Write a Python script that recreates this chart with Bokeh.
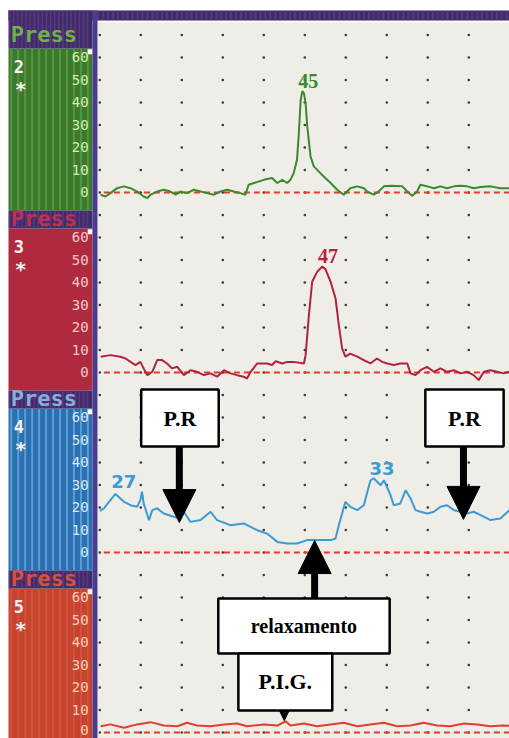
import numpy as np
from bokeh.plotting import figure
from bokeh.models import Range1d, Arrow, NormalHead
from bokeh.core.properties import value
from bokeh.embed import file_html
from bokeh.resources import INLINE

# ---------------- data ----------------
channel_names = ["2", "3", "4", "5"]
channel_base = [240, 160, 80, 0]          # stacking offset of each channel (mmHg units)
tick_values = [0, 10, 20, 30, 40, 50, 60]
tick_labels = ["0", "10", "20", "30", "40", "50", "60"]

# time in grid divisions, pressure in mmHg
ch2_t = [0.02, 0.14, 0.26, 0.42, 0.59, 0.75, 0.91, 1.07, 1.16, 1.24, 1.40, 1.56, 1.72, 1.85, 1.97,
         2.13, 2.29, 2.46, 2.62, 2.78, 2.94, 3.11, 3.27, 3.43, 3.55, 3.63, 3.76, 4.00, 4.20, 4.33,
         4.45, 4.57, 4.65, 4.73, 4.81, 4.85, 4.90, 4.94, 4.98, 5.02, 5.06, 5.14, 5.22, 5.38, 5.46,
         5.63, 5.79, 5.95, 6.11, 6.28, 6.44, 6.52, 6.68, 6.80, 6.93, 7.09, 7.38, 7.50, 7.62, 7.74,
         7.82, 7.99, 8.15, 8.31, 8.47, 8.64, 8.80, 8.96, 9.12, 9.29, 9.53, 9.77, 9.99]
ch2_p = [-1.0, -1.8, -0.3, 1.9, 2.7, 1.9, 0.4, -1.8, -2.5, -1.0, 0.4, 1.2, 0.4, -1.0, 0.4,
         -0.3, 1.2, 0.4, -0.3, -1.0, 0.4, 1.2, 0.4, -0.3, -1.0, 3.4, 4.2, 5.6, 6.4, 4.2,
         5.6, 4.2, 5.6, 8.6, 14.5, 24.9, 41.2, 45.0, 44.0, 39.7, 29.3, 16.0, 11.6, 8.6, 7.1,
         4.2, 1.2, -1.0, 1.9, 2.7, 1.9, 0.4, -1.0, 0.4, 2.7, 3.0, 2.7, 0.4, -1.5, 0.4,
         3.4, 2.7, 1.9, 2.7, 1.9, 2.7, 3.0, 2.7, 1.9, 2.4, 2.7, 1.9, 1.9]

ch3_t = [0.02, 0.26, 0.50, 0.63, 0.75, 0.87, 0.99, 1.07, 1.16, 1.28, 1.40, 1.52, 1.64, 1.76, 1.89,
         2.05, 2.21, 2.37, 2.54, 2.70, 2.86, 3.03, 3.19, 3.35, 3.51, 3.59, 3.68, 3.84, 4.08, 4.20,
         4.29, 4.45, 4.57, 4.73, 4.98, 5.02, 5.10, 5.18, 5.30, 5.42, 5.50, 5.63, 5.75, 5.83, 5.91,
         5.99, 6.11, 6.28, 6.44, 6.60, 6.76, 6.89, 7.01, 7.17, 7.33, 7.50, 7.58, 7.70, 7.82, 7.98,
         8.15, 8.31, 8.47, 8.64, 8.80, 8.96, 9.12, 9.24, 9.37, 9.53, 9.69, 9.85, 9.99]
ch3_p = [7.0, 7.7, 7.0, 6.2, 4.7, 3.3, 4.7, 1.8, -1.2, 0.3, 5.5, 5.5, 4.0, 1.8, 2.5,
         -1.2, 1.0, 0.3, -1.2, -0.4, -1.9, 1.0, -0.4, -1.2, -1.9, -2.7, 0.3, 4.0, 4.0, 3.3,
         5.0, 4.0, 4.7, 4.7, 4.0, 7.7, 25.5, 40.3, 44.7, 47.0, 46.0, 40.3, 32.9, 21.0, 10.7,
         7.0, 8.4, 7.0, 5.5, 4.0, 6.2, 4.7, 4.0, 3.3, 4.0, 4.0, -0.4, -1.2, 1.0, 2.5,
         0.3, 1.8, 0.3, 1.0, -0.4, 0.3, -1.2, -3.4, 0.3, 1.0, 0.3, -0.4, 0.3]

ch4_t = [0.00, 0.10, 0.38, 0.59, 0.75, 0.91, 0.99, 1.03, 1.07, 1.20, 1.28, 1.40, 1.56, 1.80, 1.97,
         2.05, 2.13, 2.21, 2.46, 2.70, 2.86, 3.19, 3.51, 3.84, 4.08, 4.33, 4.57, 4.81, 5.06, 5.30,
         5.63, 5.75, 5.83, 5.99, 6.11, 6.28, 6.44, 6.60, 6.68, 6.85, 6.93, 7.09, 7.17, 7.33, 7.46,
         7.58, 7.70, 7.82, 7.99, 8.15, 8.31, 8.47, 8.64, 8.80, 8.96, 9.12, 9.29, 9.53, 9.77, 9.99]
ch4_p = [18.5, 19.6, 26.0, 22.5, 21.0, 20.3, 23.3, 27.0, 21.8, 14.4, 18.8, 19.6, 17.3, 15.9, 15.1,
         18.1, 15.9, 13.6, 14.4, 18.1, 14.4, 12.1, 12.9, 9.9, 8.4, 4.7, 4.0, 4.0, 5.5, 5.5,
         5.5, 6.2, 12.1, 22.5, 20.3, 18.8, 21.0, 32.0, 33.0, 29.9, 32.1, 25.5, 21.0, 21.8, 27.7,
         24.0, 18.8, 18.1, 17.3, 18.1, 20.3, 21.0, 18.8, 18.1, 17.3, 18.1, 16.6, 14.4, 15.1, 18.8]

ch5_t = [0.02, 0.26, 0.59, 0.91, 1.24, 1.56, 1.89, 2.13, 2.37, 2.70, 3.03, 3.35, 3.59, 4.00, 4.33,
         4.53, 4.65, 4.98, 5.30, 5.63, 5.95, 6.28, 6.60, 6.93, 7.25, 7.58, 7.90, 8.23, 8.55, 8.88,
         9.20, 9.53, 9.85, 9.99]
ch5_p = [2.8, 3.6, 2.1, 3.6, 4.6, 3.1, 2.8, 4.3, 3.1, 2.8, 3.6, 4.0, 2.8, 3.6, 3.1,
         5.0, 3.1, 4.0, 2.8, 3.6, 4.3, 2.8, 3.6, 4.3, 2.8, 3.1, 4.3, 3.1, 2.8, 4.0,
         3.6, 2.8, 3.1, 3.0]

# peak value labels: channel index, time of peak, value
peak_ch = [0, 1, 2, 2]
peak_t = [4.94, 5.42, 0.38, 6.68]
peak_val = [45, 47, 27, 33]

# ---------------- styling ----------------
trace_colors = ["#3a8a2a", "#b4213f", "#3d9bd3", "#e0402e"]
panel_colors = ["#3b7a2c", "#b02a3e", "#2c6fb0", "#c8432e"]
stripe_colors = ["#62a048", None, "#6aaedf", "#d25a44"]
label_colors = ["#d2efb4", "#f6c9d3", "#d6ecfa", "#f8cfbd"]
press_colors = ["#70b048", "#c0304c", "#86aed6", "#d8503a"]
peak_font = ["Liberation Serif", "Liberation Serif", "DejaVu Sans", "DejaVu Sans"]
peak_size = ["20px", "20px", "18px", "18px"]
header_col = "#3c2e6c"
all_traces = [(ch2_t, ch2_p), (ch3_t, ch3_p), (ch4_t, ch4_p), (ch5_t, ch5_p)]

X0, X1 = -2.422, 9.993      # full canvas
Y0, Y1 = -2.67, 325.3
SL = -2.227                 # left edge of the coloured sidebar
TB = 320.9                  # top of the dark top band

p = figure(width=509, height=738, x_range=Range1d(X0, X1), y_range=Range1d(Y0, Y1),
           output_backend="svg", toolbar_location=None, min_border=0,
           x_axis_location=None, y_axis_location=None)
p.grid.visible = False
p.outline_line_color = None
p.background_fill_color = "white"
p.border_fill_color = "white"

# plotting area background
p.quad(left=-0.056, right=X1, bottom=Y0, top=315.6, fill_color="#eeede8", line_color=None)
# top band
p.quad(left=SL, right=X1, bottom=316.4, top=TB, fill_color=header_col, line_color=None)
sx = np.arange(-2.2, X1, 0.12)
p.segment(x0=sx, x1=sx, y0=316.4, y1=TB, line_color="#7a3c84", line_width=1.5, line_alpha=0.6)

# sidebar panels
for i, b in enumerate(channel_base):
    pb = Y0 if i == 3 else b - 8
    ht = TB if i == 0 else b + 72
    p.quad(left=SL, right=-0.178, bottom=pb, top=b + 64, fill_color=panel_colors[i], line_color=None)
    if stripe_colors[i]:
        xs = np.arange(-2.16, -0.2, 0.17)
        p.segment(x0=xs, x1=xs, y0=pb, y1=b + 64, line_color=stripe_colors[i], line_width=2,
                  line_alpha=0.75)
    p.quad(left=SL, right=-0.178, bottom=b + 64, top=ht, fill_color=header_col, line_color=None)
    hx = np.arange(-2.2, -0.2, 0.1)
    p.segment(x0=hx, x1=hx, y0=b + 64, y1=ht, line_color="#7a3c84", line_width=1.5, line_alpha=0.6)
    p.text(x=[-2.17], y=[b + (70 if i == 0 else 68.5)], text=["Press"], text_font=value("DejaVu Sans Mono"),
           text_font_style="bold", text_font_size="22px", text_color=press_colors[i],
           text_baseline="middle", text_align="left")
    p.text(x=[-2.10], y=[b + 56], text=[channel_names[i]], text_font=value("DejaVu Sans Mono"),
           text_font_style="bold", text_font_size="17px", text_color="#f6f2f2",
           text_baseline="middle", text_align="left")
    p.text(x=[-1.93], y=[b + 46], text=["*"], text_font=value("DejaVu Sans Mono"),
           text_font_style="bold", text_font_size="20px", text_color="#f6f2f2",
           text_baseline="middle", text_align="center")
    p.text(x=[-0.27] * len(tick_values), y=[max(b + v, Y0 + 3.6) for v in tick_values], text=tick_labels,
           text_font=value("DejaVu Sans Mono"), text_font_size="14px", text_color=label_colors[i],
           text_baseline="middle", text_align="right")
    p.scatter(x=[-0.235], y=[b + 62.5], marker="square", size=5, fill_color="white", line_color=None)

# left border of the recording
p.quad(left=-0.178, right=-0.056, bottom=Y0, top=TB, fill_color="#4a3d8f", line_color=None)

# dotted grid
gx, gy = np.meshgrid(np.arange(0, 10, 1.0), np.arange(0, 320, 10.0))
p.scatter(x=gx.ravel(), y=gy.ravel(), size=2.6, fill_color="#3a3a3a", line_color=None)

# zero baselines
for b in channel_base:
    p.line(x=[0.1, X1], y=[b, b], line_color="#e53b2f", line_width=2, line_dash="6 4")

# traces
for i, (t, pr) in enumerate(all_traces):
    p.line(x=t, y=[channel_base[i] + v for v in pr], line_color=trace_colors[i], line_width=2)

# peak labels
for c, t, v in zip(peak_ch, peak_t, peak_val):
    p.text(x=[t - 0.1], y=[channel_base[c] + v + 1.5], text=[str(v)], text_font=value(peak_font[c]),
           text_font_style="bold", text_font_size=peak_size[c], text_color=trace_colors[c],
           text_baseline="bottom", text_align="left")

# annotation boxes
box_l = [1.01, 7.94, 2.89, 3.38]
box_r = [2.90, 9.85, 7.07, 5.67]
box_b = [127.1, 127.1, 35.1, 9.8]
box_t = [152.4, 152.4, 59.6, 35.1]
box_txt = ["P.R", "P.R", "relaxamento", "P.I.G."]
box_fs = ["22px", "22px", "20px", "22px"]
p.patch(x=[4.38, 4.62, 4.5], y=[9.8, 9.8, 5.3], fill_color="black", line_color="black")
p.quad(left=box_l, right=box_r, bottom=box_b, top=box_t, fill_color="white",
       line_color="black", line_width=2.5)
for l, r, b, t, s, fs in zip(box_l, box_r, box_b, box_t, box_txt, box_fs):
    p.text(x=[(l + r) / 2], y=[(b + t) / 2], text=[s], text_font=value("Liberation Serif"),
           text_font_style="bold", text_font_size=fs, text_color="black",
           text_baseline="middle", text_align="center")

# arrows
arrows = [(1.94, 127.1, 93.3), (8.87, 127.1, 94.7), (5.24, 59.6, 85.3)]
for ax, ys, ye in arrows:
    p.add_layout(Arrow(x_start=ax, y_start=ys, x_end=ax, y_end=ye, line_width=7, line_color="black",
                       end=NormalHead(size=33, fill_color="black", line_color="black")))

open("out.html", "w").write(file_html(p, INLINE))
